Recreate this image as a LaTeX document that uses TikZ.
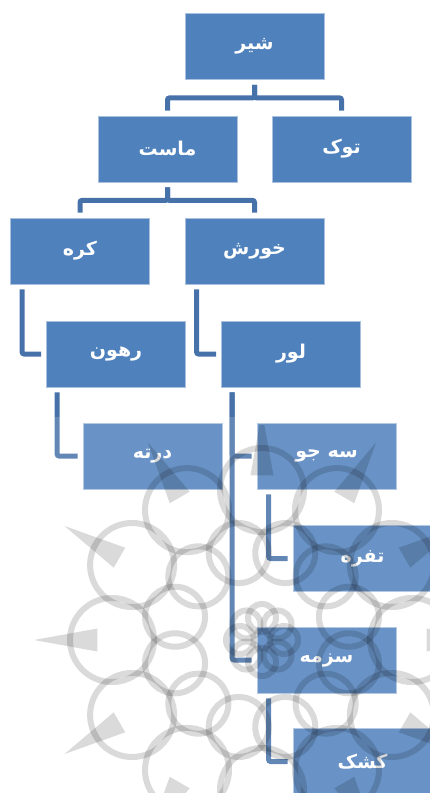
\documentclass[tikz,border=0pt]{standalone}
\usepackage{fontspec}
\newfontfamily\arabicfont[Script=Arabic]{DejaVu Sans}
\TeXXeTstate=1
\usetikzlibrary{positioning}

\definecolor{boxblue}{HTML}{4F81BD}
\definecolor{linkblue}{HTML}{4772A9}
\definecolor{rimblue}{HTML}{A9C0DF}
\definecolor{markgray}{HTML}{DADADA}

\newcommand{\fa}[1]{\beginR #1\endR}

\begin{document}
\begin{tikzpicture}[x=1pt,y=-1pt,
    item/.style={draw=rimblue,line width=0.8pt,fill=boxblue,minimum width=139pt,
      minimum height=66pt,inner sep=0pt,text=white,font=\fontsize{19}{22}\arabicfont\bfseries},
    link/.style={draw=linkblue,line width=5pt,rounded corners=2pt,
      shorten <=5pt,shorten >=5pt}]
            \useasboundingbox (0,0) rectangle (430,793);
            \node [item] (shir) at (254.5,46.5) {\fa{شیر}};
            \node [item] (tuk) at (341.5,149) {\fa{توک}};
            \node [item] (mast) at (167.5,149) {\fa{ماست}};
            \node [item] (kareh) at (80,251) {\fa{کره}};
            \node [item] (khoresh) at (254.5,251) {\fa{خورش}};
            \node [item] (rahun) at (116,354) {\fa{رهون}};
            \node [item] (lor) at (291,354) {\fa{لور}};
            \node [item] (dorte) at (152.5,456) {\fa{درته}};
            \node [item] (seju) at (326.5,456) {\fa{سه جو}};
            \node [item] (tofre) at (362.5,558.5) {\fa{تفره}};
            \node [item] (sazmeh) at (326.5,660) {\fa{سزمه}};
            \node [item] (kashk) at (362.5,761.5) {\fa{کشک}};
            % top levels
            \draw [link] (shir.south) -- ++(0,18) -| (tuk.north);
            \draw [link] (shir.south) -- ++(0,18) -| (mast.north);
            \draw [link] (mast.south) -- ++(0,18) -| (kareh.north);
            \draw [link] (mast.south) -- ++(0,18) -| (khoresh.north);
            % side branches
            \draw [link] ([xshift=12pt]kareh.south west) |- (rahun.west);
            \draw [link] ([xshift=12pt]khoresh.south west) |- (lor.west);
            \draw [link] ([xshift=11pt]rahun.south west) |- (dorte.west);
            \draw [link] ([xshift=11pt]lor.south west) |- (seju.west);
            \draw [link] ([xshift=11pt]lor.south west) |- (sazmeh.west);
            \draw [link] ([xshift=12pt]seju.south west) |- (tofre.west);
            \draw [link] ([xshift=12pt]sazmeh.south west) |- (kashk.west);
            % faded lower part with the rosette mark
            \fill [white,opacity=0.15] (0,417) rectangle (430,793);
            \begin{scope}
              \clip (0,425) rectangle (430,793);
              \begin{scope}[shift={(262,640)},blend mode=multiply,draw=markgray,line width=6pt]
                \foreach \a in {0,45,...,315}
                  \draw (\a:22) circle (14);
                \foreach \a in {0,30,...,330}{
                  \draw (\a+15:90) circle (30);
                  \draw (\a:150) circle (42);
                  \fill [markgray] (\a-4:165) -- (\a:228) -- (\a+4:165) -- cycle;
                }
              \end{scope}
            \end{scope}
\end{tikzpicture}
\end{document}
